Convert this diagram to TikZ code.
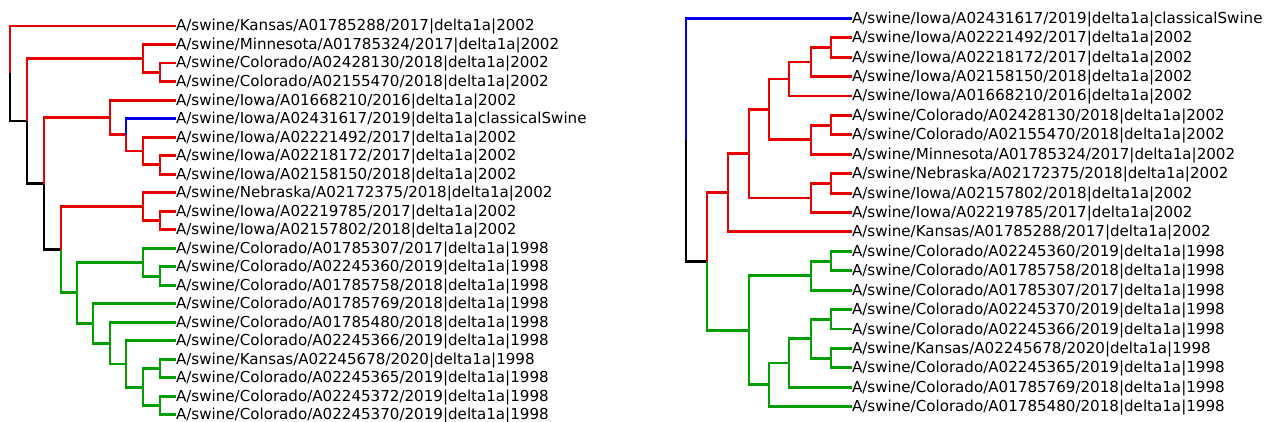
\documentclass[tikz,border=0pt]{standalone}
\usepackage{fontspec}
\setmainfont{DejaVu Sans}
\definecolor{tred}{RGB}{232,0,0}
\definecolor{tblue}{RGB}{0,0,240}
\definecolor{tgreen}{RGB}{0,158,0}
\begin{document}
\begin{tikzpicture}[x=1pt,y=-1pt,
  br/.style={line width=2.9pt},
  rd/.style={br,draw=tred},
  bl/.style={br,draw=tblue},
  gr/.style={br,draw=tgreen},
  bk/.style={br,draw=black},
  lbl/.style={anchor=west,inner sep=0pt,outer sep=0pt,font=\fontsize{15.1}{18}\selectfont,text height=10pt,text depth=0pt}]
\useasboundingbox (0,0) rectangle (1265,422);
% ---------------- left tree: leaves ----------------
\node[lbl] (a1)  at (176,26.0)  {A/swine/Kansas/A01785288/2017|delta1a|2002};
\node[lbl] (a2)  at (176,44.5)  {A/swine/Minnesota/A01785324/2017|delta1a|2002};
\node[lbl] (a3)  at (176,63.0)  {A/swine/Colorado/A02428130/2018|delta1a|2002};
\node[lbl] (a4)  at (176,81.6)  {A/swine/Colorado/A02155470/2018|delta1a|2002};
\node[lbl] (a5)  at (176,100.1) {A/swine/Iowa/A01668210/2016|delta1a|2002};
\node[lbl] (a6)  at (176,118.6) {A/swine/Iowa/A02431617/2019|delta1a|classicalSwine};
\node[lbl] (a7)  at (176,137.1) {A/swine/Iowa/A02221492/2017|delta1a|2002};
\node[lbl] (a8)  at (176,155.6) {A/swine/Iowa/A02218172/2017|delta1a|2002};
\node[lbl] (a9)  at (176,174.2) {A/swine/Iowa/A02158150/2018|delta1a|2002};
\node[lbl] (a10) at (176,192.7) {A/swine/Nebraska/A02172375/2018|delta1a|2002};
\node[lbl] (a11) at (176,211.2) {A/swine/Iowa/A02219785/2017|delta1a|2002};
\node[lbl] (a12) at (176,229.7) {A/swine/Iowa/A02157802/2018|delta1a|2002};
\node[lbl] (a13) at (176,248.2) {A/swine/Colorado/A01785307/2017|delta1a|1998};
\node[lbl] (a14) at (176,266.8) {A/swine/Colorado/A02245360/2019|delta1a|1998};
\node[lbl] (a15) at (176,285.3) {A/swine/Colorado/A01785758/2018|delta1a|1998};
\node[lbl] (a16) at (176,303.8) {A/swine/Colorado/A01785769/2018|delta1a|1998};
\node[lbl] (a17) at (176,322.3) {A/swine/Colorado/A01785480/2018|delta1a|1998};
\node[lbl] (a18) at (176,340.8) {A/swine/Colorado/A02245366/2019|delta1a|1998};
\node[lbl] (a19) at (176,359.4) {A/swine/Kansas/A02245678/2020|delta1a|1998};
\node[lbl] (a20) at (176,377.9) {A/swine/Colorado/A02245365/2019|delta1a|1998};
\node[lbl] (a21) at (176,396.4) {A/swine/Colorado/A02245372/2019|delta1a|1998};
\node[lbl] (a22) at (176,414.9) {A/swine/Colorado/A02245370/2019|delta1a|1998};
% ---------------- left tree: internal nodes ----------------
\coordinate (aR)  at (10,73.5);
\coordinate (aN1) at (27,121.0);
\coordinate (aN2) at (143,58.4);
\coordinate (aN3) at (44,183.6);
\coordinate (aN4) at (160,72.3);
\coordinate (aN5) at (110,117.5);
\coordinate (aN6) at (61,249.7);
\coordinate (aN7) at (126,134.8);
\coordinate (aN8) at (143,151.0);
\coordinate (aN9) at (160,164.9);
\coordinate (aN10) at (143,206.6);
\coordinate (aN11) at (77,292.8);
\coordinate (aN12) at (160,220.5);
\coordinate (aN13) at (143,262.1);
\coordinate (aN14) at (93,323.5);
\coordinate (aN15) at (160,276.1);
\coordinate (aN16) at (110,343.1);
\coordinate (aN17) at (126,364.0);
\coordinate (aN18) at (143,387.2);
\coordinate (aN19) at (160,368.7);
\coordinate (aN20) at (160,405.7);
% ---------------- left tree: branches ----------------
\draw[rd] (aR) |- (a1.west);
\draw[bk] (aR) |- (aN1);
\draw[rd] (aN1) |- (aN2);
\draw[bk] (aN1) |- (aN3);
\draw[rd] (aN2) |- (a2.west);
\draw[rd] (aN2) |- (aN4);
\draw[rd] (aN4) |- (a3.west);
\draw[rd] (aN4) |- (a4.west);
\draw[rd] (aN3) |- (aN5);
\draw[bk] (aN3) |- (aN6);
\draw[rd] (aN5) |- (a5.west);
\draw[rd] (aN5) |- (aN7);
\draw[bl] (aN7) |- (a6.west);
\draw[rd] (aN7) |- (aN8);
\draw[rd] (aN8) |- (a7.west);
\draw[rd] (aN8) |- (aN9);
\draw[rd] (aN9) |- (a8.west);
\draw[rd] (aN9) |- (a9.west);
\draw[rd] (aN6) |- (aN10);
\draw[gr] (aN6) |- (aN11);
\draw[rd] (aN10) |- (a10.west);
\draw[rd] (aN10) |- (aN12);
\draw[rd] (aN12) |- (a11.west);
\draw[rd] (aN12) |- (a12.west);
\draw[gr] (aN11) |- (aN13);
\draw[gr] (aN11) |- (aN14);
\draw[gr] (aN13) |- (a13.west);
\draw[gr] (aN13) |- (aN15);
\draw[gr] (aN15) |- (a14.west);
\draw[gr] (aN15) |- (a15.west);
\draw[gr] (aN14) |- (a16.west);
\draw[gr] (aN14) |- (aN16);
\draw[gr] (aN16) |- (a17.west);
\draw[gr] (aN16) |- (aN17);
\draw[gr] (aN17) |- (a18.west);
\draw[gr] (aN17) |- (aN18);
\draw[gr] (aN18) |- (aN19);
\draw[gr] (aN18) |- (aN20);
\draw[gr] (aN19) |- (a19.west);
\draw[gr] (aN19) |- (a20.west);
\draw[gr] (aN20) |- (a21.west);
\draw[gr] (aN20) |- (a22.west);
% ---------------- right tree: leaves ----------------
\node[lbl] (b1)  at (852,18.3)  {A/swine/Iowa/A02431617/2019|delta1a|classicalSwine};
\node[lbl] (b2)  at (852,37.7)  {A/swine/Iowa/A02221492/2017|delta1a|2002};
\node[lbl] (b3)  at (852,57.1)  {A/swine/Iowa/A02218172/2017|delta1a|2002};
\node[lbl] (b4)  at (852,76.6)  {A/swine/Iowa/A02158150/2018|delta1a|2002};
\node[lbl] (b5)  at (852,96.0)  {A/swine/Iowa/A01668210/2016|delta1a|2002};
\node[lbl] (b6)  at (852,115.4) {A/swine/Colorado/A02428130/2018|delta1a|2002};
\node[lbl] (b7)  at (852,134.8) {A/swine/Colorado/A02155470/2018|delta1a|2002};
\node[lbl] (b8)  at (852,154.2) {A/swine/Minnesota/A01785324/2017|delta1a|2002};
\node[lbl] (b9)  at (852,173.7) {A/swine/Nebraska/A02172375/2018|delta1a|2002};
\node[lbl] (b10) at (852,193.1) {A/swine/Iowa/A02157802/2018|delta1a|2002};
\node[lbl] (b11) at (852,212.5) {A/swine/Iowa/A02219785/2017|delta1a|2002};
\node[lbl] (b12) at (852,231.9) {A/swine/Kansas/A01785288/2017|delta1a|2002};
\node[lbl] (b13) at (852,251.3) {A/swine/Colorado/A02245360/2019|delta1a|1998};
\node[lbl] (b14) at (852,270.8) {A/swine/Colorado/A01785758/2018|delta1a|1998};
\node[lbl] (b15) at (852,290.2) {A/swine/Colorado/A01785307/2017|delta1a|1998};
\node[lbl] (b16) at (852,309.6) {A/swine/Colorado/A02245370/2019|delta1a|1998};
\node[lbl] (b17) at (852,329.0) {A/swine/Colorado/A02245366/2019|delta1a|1998};
\node[lbl] (b18) at (852,348.4) {A/swine/Kansas/A02245678/2020|delta1a|1998};
\node[lbl] (b19) at (852,367.9) {A/swine/Colorado/A02245365/2019|delta1a|1998};
\node[lbl] (b20) at (852,387.3) {A/swine/Colorado/A01785769/2018|delta1a|1998};
\node[lbl] (b21) at (852,406.7) {A/swine/Colorado/A01785480/2018|delta1a|1998};
% ---------------- right tree: internal nodes ----------------
\coordinate (bR)  at (686,139.9);
\coordinate (bN1) at (707,261.5);
\coordinate (bN2) at (728,192.8);
\coordinate (bN3) at (749,153.7);
\coordinate (bN4) at (769,109.3);
\coordinate (bN6) at (789,79.0);
\coordinate (bN7) at (811,139.7);
\coordinate (bN8) at (831,125.1);
\coordinate (bN9) at (831,183.4);
\coordinate (bN10) at (811,198.0);
\coordinate (bN11) at (811,62.0);
\coordinate (bN12) at (831,47.4);
\coordinate (bN13) at (749,330.2);
\coordinate (bN14) at (811,275.6);
\coordinate (bN15) at (769,384.9);
\coordinate (bN16) at (831,261.1);
\coordinate (bN17) at (789,363.0);
\coordinate (bN18) at (811,338.7);
\coordinate (bN19) at (831,319.3);
\coordinate (bN20) at (831,358.2);
% ---------------- right tree: branches ----------------
\draw[bl] (bR) |- (b1.west);
\draw[bk] (bR) |- (bN1);
\draw[rd] (bN1) |- (bN2);
\draw[gr] (bN1) |- (bN13);
\draw[rd] (bN2) |- (bN3);
\draw[rd] (bN2) |- (b12.west);
\draw[rd] (bN3) |- (bN4);
\draw[rd] (bN3) |- (bN10);
\draw[rd] (bN4) |- (bN6);
\draw[rd] (bN4) |- (bN7);
\draw[rd] (bN6) |- (bN11);
\draw[rd] (bN6) |- (b5.west);
\draw[rd] (bN11) |- (bN12);
\draw[rd] (bN11) |- (b4.west);
\draw[rd] (bN12) |- (b2.west);
\draw[rd] (bN12) |- (b3.west);
\draw[rd] (bN7) |- (bN8);
\draw[rd] (bN7) |- (b8.west);
\draw[rd] (bN8) |- (b6.west);
\draw[rd] (bN8) |- (b7.west);
\draw[rd] (bN10) |- (bN9);
\draw[rd] (bN10) |- (b11.west);
\draw[rd] (bN9) |- (b9.west);
\draw[rd] (bN9) |- (b10.west);
\draw[gr] (bN13) |- (bN14);
\draw[gr] (bN13) |- (bN15);
\draw[gr] (bN14) |- (bN16);
\draw[gr] (bN14) |- (b15.west);
\draw[gr] (bN16) |- (b13.west);
\draw[gr] (bN16) |- (b14.west);
\draw[gr] (bN15) |- (bN17);
\draw[gr] (bN15) |- (b21.west);
\draw[gr] (bN17) |- (bN18);
\draw[gr] (bN17) |- (b20.west);
\draw[gr] (bN18) |- (bN19);
\draw[gr] (bN18) |- (bN20);
\draw[gr] (bN19) |- (b16.west);
\draw[gr] (bN19) |- (b17.west);
\draw[gr] (bN20) |- (b18.west);
\draw[gr] (bN20) |- (b19.west);
\end{tikzpicture}
\end{document}
